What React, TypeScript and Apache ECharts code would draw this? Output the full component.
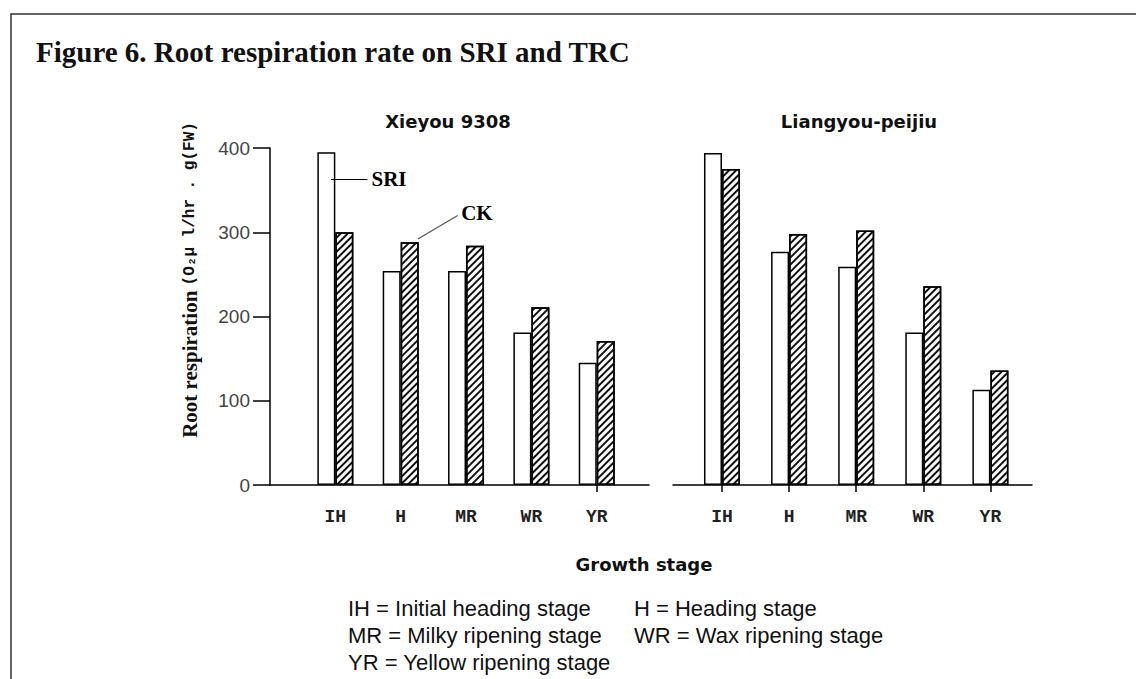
import React, { useEffect, useRef } from 'react';
import * as echarts from 'echarts';

const categories = ['IH', 'H', 'MR', 'WR', 'YR'];
const categoryPositions = [1, 2, 3, 4, 5];
const xieyouSRI = [395, 254, 254, 181, 145];
const xieyouCK = [300, 288, 284, 211, 171];
const liangyouSRI = [394, 277, 259, 181, 113];
const liangyouCK = [375, 298, 302, 236, 136];
const yTickValues = [0, 100, 200, 300, 400];

const panelTitles = ['Xieyou 9308', 'Liangyou-peijiu'];
const figureTitle = 'Figure 6. Root respiration rate on SRI and TRC';
const yAxisMain = 'Root respiration ';
const yAxisUnit = '(O\u2082\u03bc l/hr . g(FW)';
const xAxisTitle = 'Growth stage';
const legendCol1 = ['IH = Initial heading stage', 'MR = Milky ripening stage', 'YR = Yellow ripening stage'];
const legendCol2 = ['H = Heading stage', 'WR = Wax ripening stage'];

// annotation leader lines in data coordinates of the left panel
const annotations = [
  { text: 'SRI', from: [1.07, 363], to: [1.63, 363], dashed: false },
  { text: 'CK', from: [2.4, 292], to: [3.01, 320], dashed: true },
];

const toPts = (vals: number[]) => vals.map((v, i) => [categoryPositions[i], v]);

const hatch = {
  symbol: 'rect',
  symbolSize: 1,
  dashArrayX: [1, 0],
  dashArrayY: [1.4, 2.6],
  rotation: -Math.PI / 4,
  color: '#111',
  backgroundColor: '#fff',
};

const sriStyle = { color: '#fff', borderColor: '#000', borderWidth: 1.5 };
const ckStyle = { color: '#fff', borderColor: '#000', borderWidth: 1.5, decal: hatch };

export default function App() {
  const ref = useRef<HTMLDivElement>(null);
  useEffect(() => {
    if (!ref.current) return;
    const chart = echarts.init(ref.current, null, { renderer: 'svg' });
    const xLabel = {
      customValues: categoryPositions,
      formatter: (v: number) => categories[Math.round(v) - 1] ?? '',
      fontFamily: 'Liberation Mono',
      fontWeight: 'bold',
      fontSize: 18,
      color: '#222',
      margin: 23,
    };
    const axisLine = { show: true, onZero: false, lineStyle: { color: '#000', width: 1.5 } };
    const option: any = {
      animation: false,
      backgroundColor: '#fff',
      grid: [
        { left: 270, right: 487, top: 148, bottom: 194 },
        { left: 673, right: 104, top: 148, bottom: 194 },
      ],
      xAxis: [
        {
          type: 'value', gridIndex: 0, min: 0, max: 5.8,
          axisLine,
          axisTick: { show: true, customValues: [5], length: 7, lineStyle: { color: '#000', width: 1.5 } },
          axisLabel: xLabel,
          splitLine: { show: false },
        },
        {
          type: 'value', gridIndex: 1, min: 0.27, max: 5.62,
          axisLine,
          axisTick: { show: true, customValues: categoryPositions, length: 7, lineStyle: { color: '#000', width: 1.5 } },
          axisLabel: xLabel,
          splitLine: { show: false },
        },
      ],
      yAxis: [
        {
          type: 'value', gridIndex: 0, min: yTickValues[0], max: yTickValues[yTickValues.length - 1], interval: 100,
          axisLine,
          axisTick: { show: true, length: 17, lineStyle: { color: '#000', width: 1.5 } },
          axisLabel: { fontFamily: 'Liberation Sans', fontSize: 19, color: '#444', margin: 20 },
          splitLine: { show: false },
        },
        {
          type: 'value', gridIndex: 1, min: yTickValues[0], max: yTickValues[yTickValues.length - 1], interval: 100,
          show: false,
        },
      ],
      series: [
        {
          name: 'SRI', type: 'bar', xAxisIndex: 0, yAxisIndex: 0, data: toPts(xieyouSRI),
          barWidth: 18, barGap: '0%', itemStyle: sriStyle,
          markLine: {
            silent: true,
            symbol: ['none', 'none'],
            data: annotations.map((a) => [
              {
                coord: a.from,
                lineStyle: { color: a.dashed ? '#555' : '#000', width: 1.2, type: 'solid' },
                label: {
                  show: true, position: 'end', formatter: a.text, distance: 4,
                  fontFamily: 'Liberation Serif', fontWeight: 'bold', fontSize: 21, color: '#000',
                },
              },
              { coord: a.to },
            ]),
          },
        },
        { name: 'CK', type: 'bar', xAxisIndex: 0, yAxisIndex: 0, data: toPts(xieyouCK), barWidth: 18, barGap: '0%', itemStyle: ckStyle },
        { name: 'SRI', type: 'bar', xAxisIndex: 1, yAxisIndex: 1, data: toPts(liangyouSRI), barWidth: 18, barGap: '0%', itemStyle: sriStyle },
        { name: 'CK', type: 'bar', xAxisIndex: 1, yAxisIndex: 1, data: toPts(liangyouCK), barWidth: 18, barGap: '0%', itemStyle: ckStyle },
      ],
      graphic: [
        {
          type: 'polyline', silent: true,
          shape: { points: [[11, 679], [11, 14], [1136, 14]] },
          style: { stroke: '#333', lineWidth: 1.5, fill: null },
        },
        {
          type: 'text', x: 36, y: 52,
          style: { text: figureTitle, font: 'bold 29px "Liberation Serif"', fill: '#111', align: 'left', verticalAlign: 'middle' },
        },
        {
          type: 'text', x: 448, y: 121,
          style: { text: panelTitles[0], font: 'bold 18px "DejaVu Sans"', fill: '#111', align: 'center', verticalAlign: 'middle' },
        },
        {
          type: 'text', x: 859, y: 121,
          style: { text: panelTitles[1], font: 'bold 18px "DejaVu Sans"', fill: '#111', align: 'center', verticalAlign: 'middle' },
        },
        {
          type: 'text', x: 190, y: 280, rotation: Math.PI / 2,
          style: {
            text: '{a|' + yAxisMain + '}{b|' + yAxisUnit + '}',
            align: 'center', verticalAlign: 'middle',
            rich: {
              a: { fontFamily: 'Liberation Serif', fontWeight: 'bold', fontSize: 21, fill: '#111' },
              b: { fontFamily: 'Liberation Mono', fontWeight: 'bold', fontSize: 16, fill: '#111' },
            },
          },
        },
        {
          type: 'text', x: 644, y: 564,
          style: { text: xAxisTitle, font: 'bold 18px "DejaVu Sans"', fill: '#111', align: 'center', verticalAlign: 'middle' },
        },
        ...legendCol1.map((t, i) => ({
          type: 'text', x: 348, y: 608 + i * 27,
          style: { text: t, font: '22px "Liberation Sans"', fill: '#111', align: 'left', verticalAlign: 'middle' },
        })),
        ...legendCol2.map((t, i) => ({
          type: 'text', x: 634, y: 608 + i * 27,
          style: { text: t, font: '22px "Liberation Sans"', fill: '#111', align: 'left', verticalAlign: 'middle' },
        })),
      ],
    };
    chart.setOption(option);
    return () => chart.dispose();
  }, []);
  return (
    <div
      ref={ref}
      style={{ position: 'fixed', left: 0, top: 0, width: 1136, height: 679, background: '#fff' }}
    />
  );
}
